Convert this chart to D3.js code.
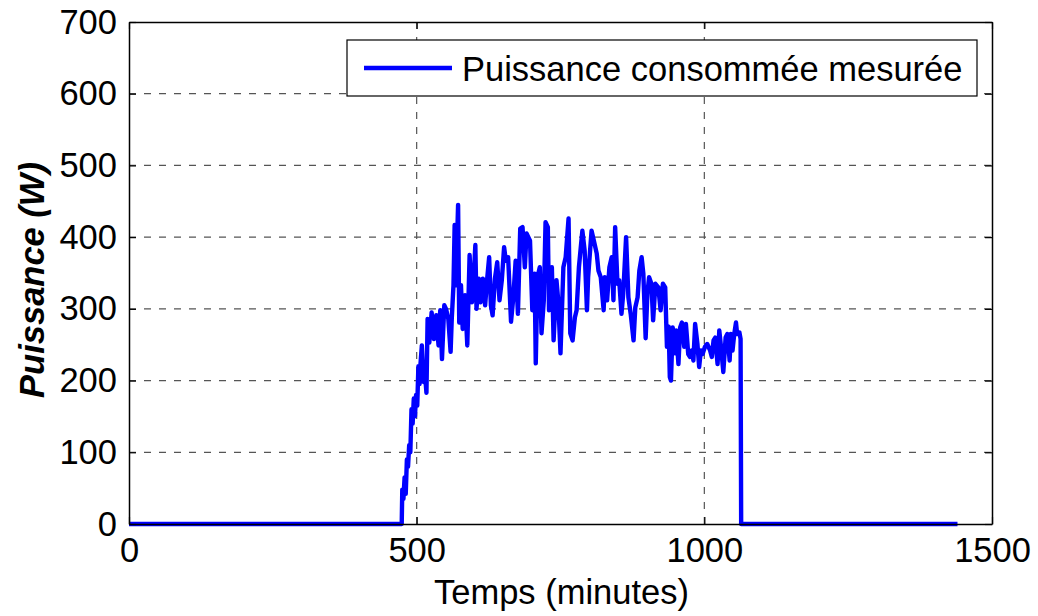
<!DOCTYPE html>
<html>
<head>
<meta charset="utf-8">
<script src="https://cdn.jsdelivr.net/npm/d3@7"></script>
<style>
  html, body { margin: 0; padding: 0; background: #fff; }
  svg { display: block; }
  text { font-family: "Liberation Sans", Arial, Helvetica, sans-serif; }
</style>
</head>
<body>
<svg id="chart" width="1038" height="616"></svg>
<script>
// ---- data ----
const minutes = [
  0, 474, 475, 477, 479, 481, 483, 485, 487, 489, 491, 493, 495, 497, 499, 501, 503, 505,
  506, 509, 512, 514, 517, 519, 522, 526, 530, 534, 538, 541, 544, 548, 551, 555, 559, 561,
  564, 566, 568, 572, 574, 577, 580, 584, 588, 592, 596, 599, 602, 604, 608, 611, 615, 619,
  622, 626, 629, 632, 636, 640, 644, 648, 652, 655, 659, 664, 668, 672, 676, 680, 684, 688,
  691, 697, 701, 705, 707, 710, 714, 717, 721, 724, 728, 730, 735, 738, 743, 746, 750, 755,
  759, 764, 767, 771, 775, 778, 782, 788, 792, 796, 798, 804, 808, 813, 816, 820, 825, 827,
  831, 835, 839, 842, 845, 849, 852, 856, 859, 864, 868, 872, 877, 880, 884, 887, 891, 894,
  898, 901, 904, 908, 911, 915, 920, 924, 928, 932, 935, 938, 940, 942, 945, 949, 951, 955,
  958, 961, 965, 968, 972, 975, 978, 981, 984, 988, 991, 994, 997, 1001, 1005, 1010, 1013,
  1016, 1019, 1023, 1026, 1029, 1033, 1037, 1040, 1044, 1046, 1049, 1052, 1055, 1057, 1061,
  1063, 1064, 1440
];
const power = [
  0, 0, 48, 35, 65, 42, 90, 80, 110, 100, 160, 140, 175, 150, 180, 165, 220, 195,
  216, 249, 198, 215, 183, 286, 253, 295, 258, 291, 249, 298, 230, 305, 300, 286, 240, 286,
  333, 417, 333, 445, 281, 333, 272, 319, 249, 375, 309, 342, 389, 300, 342, 309, 342, 305,
  337, 372, 305, 291, 342, 365, 312, 340, 386, 367, 372, 282, 316, 367, 293, 412, 414, 358,
  405, 395, 298, 349, 224, 344, 358, 266, 312, 421, 414, 298, 358, 256, 340, 312, 238, 358,
  372, 426, 266, 256, 288, 298, 358, 409, 381, 298, 344, 409, 395, 377, 353, 344, 298, 344,
  312, 358, 372, 312, 414, 335, 340, 293, 321, 400, 316, 293, 256, 302, 316, 353, 372, 349,
  259, 321, 344, 335, 284, 335, 330, 298, 335, 330, 247, 275, 205, 200, 274, 238, 270, 223,
  274, 281, 247, 279, 237, 233, 242, 228, 279, 251, 219, 242, 237, 247, 251, 242, 233,
  256, 260, 223, 270, 247, 212, 260, 265, 228, 265, 242, 265, 281, 265, 267,
  258, 0, 0
];
const seriesName = "Puissance consommée mesurée";
const xTicks = [0, 500, 1000, 1500];
const yTicks = [0, 100, 200, 300, 400, 500, 600, 700];
const xLabel = "Temps (minutes)";
const yLabel = "Puissance (W)";

// ---- layout ----
const svg = d3.select("#chart");
const L = 129, R = 992, T = 22, B = 524;
const FS = 34.5;
const x = d3.scaleLinear().domain([0, 1500]).range([L, R]);
const y = d3.scaleLinear().domain([0, 700]).range([B, T]);

// white background
svg.append("rect").attr("x", 0).attr("y", 0).attr("width", 1038).attr("height", 616).attr("fill", "#fff");

// grid
const grid = svg.append("g").attr("stroke", "#555").attr("stroke-width", 1.2).attr("stroke-dasharray", "7,8");
grid.selectAll("line.h").data(yTicks.filter(d => d > 0 && d < 700)).join("line")
  .attr("class", "h").attr("x1", L).attr("x2", R)
  .attr("y1", d => y(d)).attr("y2", d => y(d));
grid.selectAll("line.v").data(xTicks.filter(d => d > 0 && d < 1500)).join("line")
  .attr("class", "v").attr("y1", T).attr("y2", B)
  .attr("x1", d => x(d)).attr("x2", d => x(d));

// data line
const pts = minutes.map((m, i) => [m, power[i]]);
svg.append("path").datum(pts)
  .attr("fill", "none").attr("stroke", "#0000ff").attr("stroke-width", 4.4)
  .attr("stroke-linejoin", "round")
  .attr("d", d3.line().x(d => x(d[0])).y(d => y(d[1])));

// axes (inward ticks, MATLAB style)
const styleAxis = g => {
  g.select(".domain").attr("stroke", "#000").attr("stroke-width", 1.5);
  g.selectAll(".tick line").attr("stroke", "#000").attr("stroke-width", 1.2);
  g.selectAll("text").attr("font-size", FS).attr("fill", "#000")
    .attr("font-family", "'Liberation Sans', Arial, sans-serif");
};
svg.append("g").attr("transform", `translate(0,${B})`)
  .call(d3.axisBottom(x).tickValues(xTicks).tickFormat(d3.format("d")).tickSizeInner(-7).tickSizeOuter(0).tickPadding(14))
  .call(styleAxis);
svg.append("g").attr("transform", `translate(${L},0)`)
  .call(d3.axisLeft(y).tickValues(yTicks).tickFormat(d3.format("d")).tickSizeInner(-7).tickSizeOuter(0).tickPadding(12))
  .call(styleAxis);
svg.append("g").attr("transform", `translate(0,${T})`)
  .call(d3.axisTop(x).tickValues(xTicks).tickFormat("").tickSizeInner(-7).tickSizeOuter(0))
  .call(styleAxis);
svg.append("g").attr("transform", `translate(${R},0)`)
  .call(d3.axisRight(y).tickValues(yTicks).tickFormat("").tickSizeInner(-7).tickSizeOuter(0))
  .call(styleAxis);

// axis labels
svg.append("text").attr("x", (L + 990) / 2 + 2).attr("y", 604)
  .attr("text-anchor", "middle").attr("font-size", FS).text(xLabel);
svg.append("text").attr("transform", `translate(44,${(T + B) / 2 + 7}) rotate(-90)`)
  .attr("text-anchor", "middle").attr("font-size", FS)
  .attr("font-weight", "bold").attr("font-style", "italic").text(yLabel);

// legend
const lg = svg.append("g");
lg.append("rect").attr("x", 347).attr("y", 40).attr("width", 630).attr("height", 56)
  .attr("fill", "#fff").attr("stroke", "#000").attr("stroke-width", 1.2);
lg.append("line").attr("x1", 364).attr("x2", 452).attr("y1", 68).attr("y2", 68)
  .attr("stroke", "#0000ff").attr("stroke-width", 4.4);
lg.append("text").attr("x", 462).attr("y", 80.5).attr("font-size", FS).text(seriesName);
</script>
</body>
</html>
